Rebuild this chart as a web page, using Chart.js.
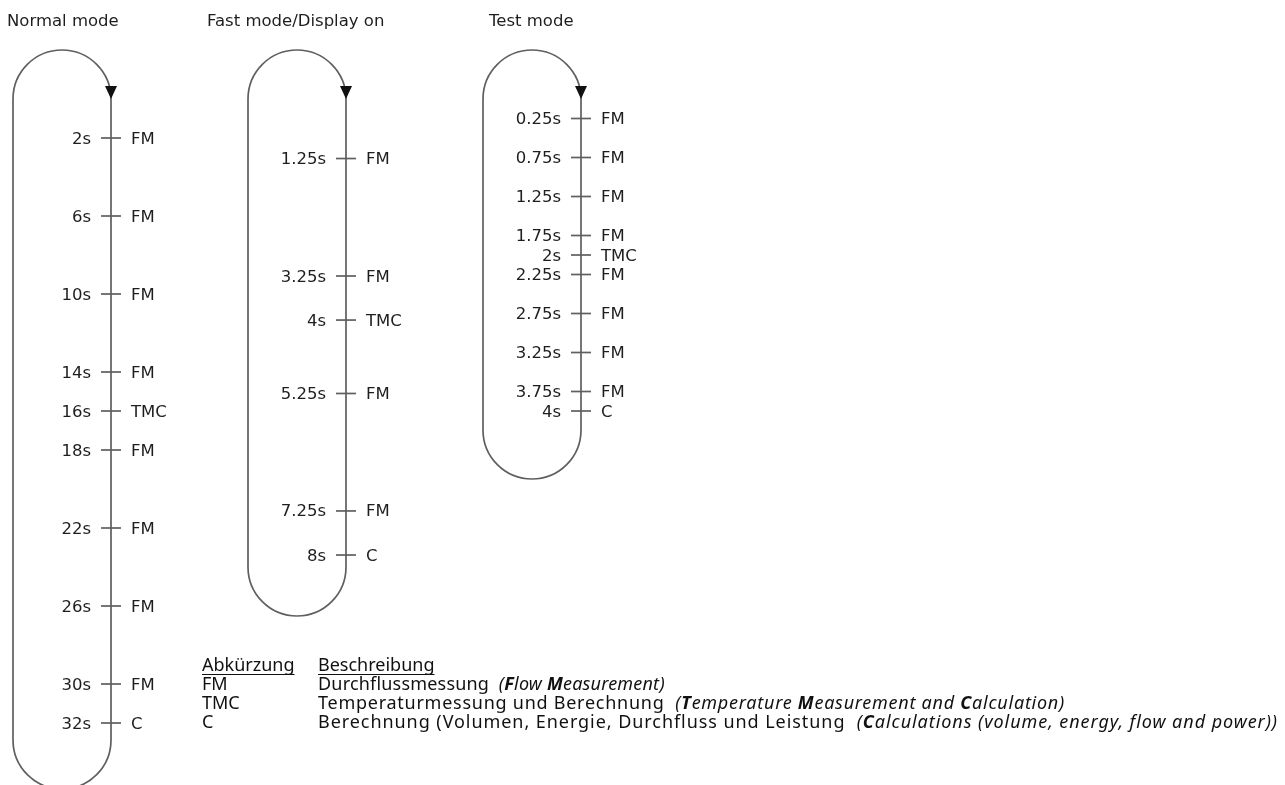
<!DOCTYPE html>
<html>
<head>
<meta charset="utf-8">
<script src="https://cdn.jsdelivr.net/npm/chart.js@4.4.1/dist/chart.umd.min.js"></script>
<style>
html,body{margin:0;padding:0;background:#ffffff;}
#wrap{width:1285px;height:785px;position:relative;}
</style>
</head>
<body>
<div id="wrap"><canvas id="c"></canvas></div>
<script>
// ---------- DATA ----------
const modeTitles = ['Normal mode', 'Fast mode/Display on', 'Test mode'];

const normalTimes  = [2, 6, 10, 14, 16, 18, 22, 26, 30, 32];
const normalLabels = ['2s', '6s', '10s', '14s', '16s', '18s', '22s', '26s', '30s', '32s'];
const normalEvents = ['FM', 'FM', 'FM', 'FM', 'TMC', 'FM', 'FM', 'FM', 'FM', 'C'];

const fastTimes  = [1.25, 3.25, 4, 5.25, 7.25, 8];
const fastLabels = ['1.25s', '3.25s', '4s', '5.25s', '7.25s', '8s'];
const fastEvents = ['FM', 'FM', 'TMC', 'FM', 'FM', 'C'];

const testTimes  = [0.25, 0.75, 1.25, 1.75, 2, 2.25, 2.75, 3.25, 3.75, 4];
const testLabels = ['0.25s', '0.75s', '1.25s', '1.75s', '2s', '2.25s', '2.75s', '3.25s', '3.75s', '4s'];
const testEvents = ['FM', 'FM', 'FM', 'FM', 'TMC', 'FM', 'FM', 'FM', 'FM', 'C'];

const legendHeaders = ['Abkürzung', 'Beschreibung'];
const legendAbbr    = ['FM', 'TMC', 'C'];
const legendGerman  = ['Durchflussmessung', 'Temperaturmessung und Berechnung', 'Berechnung (Volumen, Energie, Durchfluss und Leistung'];
const legendEnglish = ['(**F**low **M**easurement)', '(**T**emperature **M**easurement and **C**alculation)', '(**C**alculations (volume, energy, flow and power))'];

// ---------- LAYOUT ----------
const W = 1285, H = 785;
const LINE = '#5f5f5f';
const TEXT = '#1e1e1e';
const R = 49;            // loop radius
const LOOP_TOP = 99;     // centre of upper arc
const DIAG_FONT = '16.5px "DejaVu Sans", Verdana, sans-serif';
const LEG_FONT_FAMILY = '"Noto Sans", "Open Sans", sans-serif';
const LEG_SIZE = 18;
const LEG_COL_A = 202, LEG_COL_B = 318;
const LEG_BASE = [671, 690, 709, 728];
const LEG_ROW_END = [665, 1065, 1278];   // right edge of each description row

const panels = [
  { title: modeTitles[0], times: normalTimes, labels: normalLabels, events: normalEvents,
    yId: 'yN', axisX: 111, titleX: 7, zeroPx: 99, pxPerSec: 19.5, loopBottom: 740 },
  { title: modeTitles[1], times: fastTimes, labels: fastLabels, events: fastEvents,
    yId: 'yF', axisX: 346, titleX: 207, zeroPx: 85.1, pxPerSec: 58.74, loopBottom: 567 },
  { title: modeTitles[2], times: testTimes, labels: testLabels, events: testEvents,
    yId: 'yT', axisX: 581, titleX: 489, zeroPx: 99, pxPerSec: 78, loopBottom: 430 }
];

const scales = {
  x: { type: 'linear', display: false, min: 0, max: W }
};
panels.forEach(p => {
  scales[p.yId] = {
    type: 'linear', display: false, reverse: true,
    min: -p.zeroPx / p.pxPerSec,
    max: (H - p.zeroPx) / p.pxPerSec
  };
});

const datasets = panels.map(p => ({
  label: p.title,
  yAxisID: p.yId,
  xAxisID: 'x',
  data: p.times.map(t => ({ x: p.axisX, y: t })),
  pointStyle: 'line',
  pointRadius: 10,
  pointHoverRadius: 10,
  pointBorderColor: LINE,
  pointBorderWidth: 1.7,
  showLine: false,
  clip: false
}));

function drawRichRow(ctx, segments, x, y, spacing) {
  const hasLS = ('letterSpacing' in ctx);
  segments.forEach(s => {
    ctx.font = s.font;
    if (hasLS) ctx.letterSpacing = spacing + 'px';
    ctx.fillText(s.text, x, y);
    x += ctx.measureText(s.text).width;
  });
  if (hasLS) ctx.letterSpacing = '0px';
  return x;
}

const diagramPlugin = {
  id: 'diagram',
  beforeDatasetsDraw(chart) {
    const ctx = chart.ctx;
    const xs = chart.scales.x;
    ctx.save();
    panels.forEach(p => {
      const ax = xs.getPixelForValue(p.axisX);
      const cx = ax - R;
      const left = ax - 2 * R;
      ctx.strokeStyle = LINE;
      ctx.lineWidth = 1.7;
      ctx.beginPath();
      ctx.moveTo(left, p.loopBottom);
      ctx.lineTo(left, LOOP_TOP);
      ctx.arc(cx, LOOP_TOP, R, Math.PI, 0, false);
      ctx.lineTo(ax, p.loopBottom);
      ctx.arc(cx, p.loopBottom, R, 0, Math.PI, false);
      ctx.stroke();
      // arrow head
      ctx.fillStyle = '#111';
      ctx.beginPath();
      ctx.moveTo(ax - 6, LOOP_TOP - 13);
      ctx.lineTo(ax + 6, LOOP_TOP - 13);
      ctx.lineTo(ax, LOOP_TOP);
      ctx.closePath();
      ctx.fill();
    });
    ctx.restore();
  },
  afterDatasetsDraw(chart) {
    const ctx = chart.ctx;
    const xs = chart.scales.x;
    ctx.save();
    ctx.fillStyle = TEXT;
    ctx.font = DIAG_FONT;
    ctx.textBaseline = 'alphabetic';
    panels.forEach(p => {
      const ys = chart.scales[p.yId];
      const ax = xs.getPixelForValue(p.axisX);
      ctx.textAlign = 'left';
      ctx.fillText(p.title, p.titleX, 26);
      p.times.forEach((t, i) => {
        const y = ys.getPixelForValue(t);
        ctx.textAlign = 'right';
        ctx.fillText(p.labels[i], ax - 20, y + 5.5);
        ctx.textAlign = 'left';
        ctx.fillText(p.events[i], ax + 20, y + 5.5);
      });
    });

    // legend table
    ctx.fillStyle = '#111';
    ctx.textAlign = 'left';
    const normalF = LEG_SIZE + 'px ' + LEG_FONT_FAMILY;
    const italF = 'italic ' + LEG_SIZE + 'px ' + LEG_FONT_FAMILY;
    const boldItalF = 'italic bold ' + LEG_SIZE + 'px ' + LEG_FONT_FAMILY;
    ctx.font = normalF;
    [LEG_COL_A, LEG_COL_B].forEach((x, i) => {
      const txt = legendHeaders[i];
      ctx.fillText(txt, x, LEG_BASE[0]);
      const w = ctx.measureText(txt).width;
      ctx.strokeStyle = '#111';
      ctx.lineWidth = 1;
      ctx.beginPath();
      ctx.moveTo(x, LEG_BASE[0] + 3.5);
      ctx.lineTo(x + w, LEG_BASE[0] + 3.5);
      ctx.stroke();
    });
    legendAbbr.forEach((ab, i) => {
      const y = LEG_BASE[i + 1];
      ctx.font = normalF;
      ctx.fillText(ab, LEG_COL_A, y);
      const segs = [{ text: legendGerman[i] + '  ', font: normalF }];
      legendEnglish[i].split('**').forEach((seg, k) => {
        if (seg) segs.push({ text: seg, font: (k % 2 === 1) ? boldItalF : italF });
      });
      let natural = 0, chars = 0;
      segs.forEach(s => { ctx.font = s.font; natural += ctx.measureText(s.text).width; chars += s.text.length; });
      const spacing = Math.max(0, (LEG_ROW_END[i] - LEG_COL_B - natural) / chars);
      drawRichRow(ctx, segs, LEG_COL_B, y, spacing);
    });
    ctx.restore();
  }
};

new Chart(document.getElementById('c'), {
  type: 'scatter',
  data: { datasets },
  options: {
    responsive: true,
    maintainAspectRatio: false,
    animation: false,
    events: [],
    layout: { padding: 0, autoPadding: false },
    plugins: { legend: { display: false }, tooltip: { enabled: false }, title: { display: false } },
    scales
  },
  plugins: [diagramPlugin]
});
</script>
</body>
</html>
